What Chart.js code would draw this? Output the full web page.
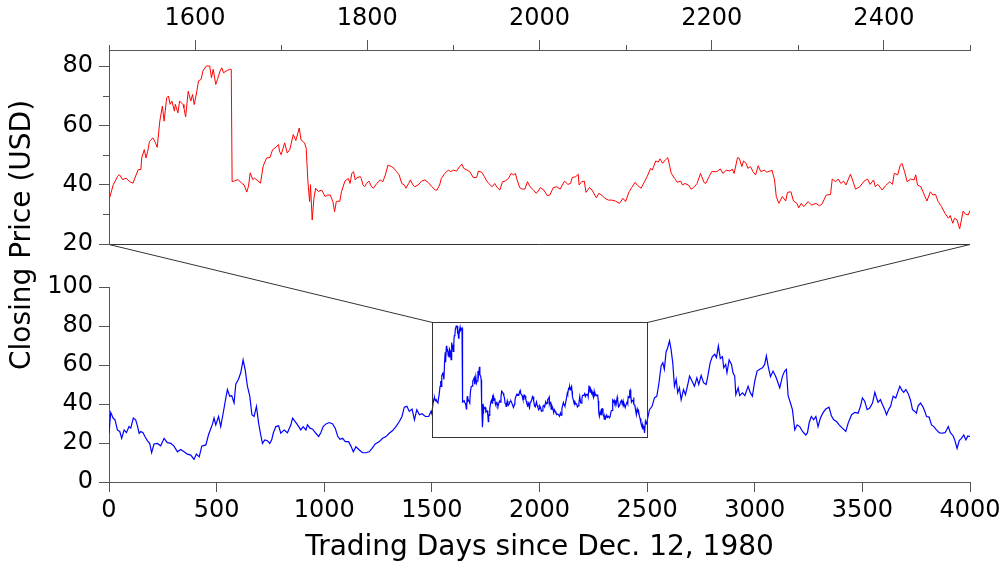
<!DOCTYPE html>
<html>
<head>
<meta charset="utf-8">
<script src="https://cdn.jsdelivr.net/npm/chart.js@4.4.1/dist/chart.umd.min.js"></script>
<style>
    html, body { margin: 0; padding: 0; background: #fff; }
    #wrap { position: relative; width: 1005px; height: 568px; }
    #wrap canvas { position: absolute; left: 0; top: 0; }
</style>
</head>
<body>
<div id="wrap">
    <canvas id="bottomChart" width="1005" height="568"></canvas>
    <canvas id="topChart" width="1005" height="568"></canvas>
</div>
<script>
// Datos (dias de cotizacion / precio de cierre)
const earlyDays = [0, 8, 19, 28, 39, 50, 59, 70, 81, 93, 101, 113, 124, 132, 140, 148, 158, 167, 178, 189, 198, 209, 225, 240, 256, 271, 287, 302, 318, 333, 349, 364, 380, 395, 406, 419, 431, 450, 462, 481, 488, 496, 509, 519, 530, 540, 550, 561, 570, 581, 589, 601, 612, 623, 633, 643, 654, 664, 674, 685, 695, 705, 713, 724, 736, 747, 756, 763, 775, 788, 798, 814, 829, 845, 853, 865, 876, 891, 902, 915, 922, 934, 946, 961, 974, 984, 995, 1008, 1023, 1039, 1051, 1062, 1073, 1085, 1098, 1113, 1124, 1135, 1147, 1163, 1178, 1194, 1209, 1222, 1237, 1256, 1271, 1287, 1302, 1318, 1333, 1349, 1361, 1372, 1384, 1395, 1408, 1419, 1430, 1442, 1454, 1470, 1485, 1496];
const earlyPrices = [25, 35.7, 32.8, 31.9, 26.7, 25.9, 22.4, 26.7, 25.3, 28.4, 27.6, 32.8, 31.9, 28.8, 25, 25.9, 25.3, 23.3, 21.2, 19.8, 15, 19.5, 19.8, 18.6, 22.4, 20.2, 19.8, 18.4, 15.5, 16.7, 15.5, 14.3, 13.8, 11.6, 14.3, 12.9, 18.4, 19, 24.1, 29.8, 32.8, 29.3, 33.6, 28.4, 35, 41.4, 47.4, 44, 44.3, 40.5, 50.2, 52.6, 56, 62.6, 57.4, 49.1, 44, 34.5, 33.6, 38.8, 30.2, 24.1, 19.8, 21.6, 21.2, 19.8, 21.6, 25, 28.4, 28.8, 25, 26.7, 25.3, 29.3, 32.8, 31, 29.3, 26.7, 28.4, 26.7, 29.3, 27.6, 27.1, 25, 23.3, 25.3, 28.4, 29.8, 30.5, 29.8, 27.6, 23.6, 21.9, 22.4, 20.7, 20.7, 18.4, 15.5, 18.1, 16.4, 15, 15, 15.5, 17.2, 19.5, 20.7, 22.4, 23.3, 25, 26.4, 28.4, 31, 33.6, 38.4, 38.8, 36.2, 37.4, 31.9, 37.1, 34.5, 35, 33.6, 33.6, 36.2];

// Tramo ampliado (1500 - 2500)
const zoomDays = [1500, 1505, 1510, 1512, 1516, 1520, 1524, 1528, 1530, 1534, 1537, 1538, 1541, 1543, 1545, 1547, 1551, 1554, 1556, 1559, 1562, 1564, 1567, 1569, 1571, 1573, 1576, 1577, 1580, 1582, 1586, 1587, 1589, 1592, 1595, 1597, 1599, 1602, 1604, 1607, 1609, 1613, 1617, 1619, 1621, 1624, 1626, 1629, 1631, 1633, 1636, 1640, 1642, 1643, 1646, 1650, 1654, 1657, 1660, 1662, 1664, 1667, 1669, 1673, 1676, 1679, 1683, 1687, 1690, 1693, 1697, 1698, 1700, 1704, 1707, 1710, 1714, 1717, 1721, 1723, 1727, 1729, 1731, 1733, 1734, 1736, 1738, 1740, 1743, 1747, 1751, 1754, 1757, 1760, 1762, 1764, 1766, 1768, 1770, 1774, 1778, 1780, 1782, 1784, 1786, 1788, 1792, 1793, 1795, 1797, 1799, 1802, 1805, 1807, 1811, 1815, 1818, 1821, 1824, 1828, 1831, 1834, 1837, 1840, 1843, 1845, 1848, 1850, 1853, 1855, 1859, 1863, 1867, 1871, 1875, 1879, 1881, 1884, 1886, 1890, 1894, 1897, 1900, 1904, 1907, 1910, 1912, 1916, 1919, 1923, 1927, 1929, 1933, 1936, 1938, 1941, 1945, 1948, 1951, 1954, 1957, 1960, 1964, 1967, 1970, 1972, 1974, 1977, 1980, 1983, 1986, 1989, 1993, 1996, 1998, 2001, 2005, 2009, 2012, 2016, 2020, 2024, 2029, 2033, 2036, 2038, 2042, 2045, 2046, 2049, 2052, 2054, 2058, 2061, 2066, 2069, 2073, 2076, 2080, 2084, 2088, 2093, 2097, 2100, 2104, 2107, 2111, 2114, 2118, 2122, 2125, 2129, 2131, 2135, 2138, 2140, 2143, 2146, 2149, 2151, 2153, 2157, 2160, 2164, 2166, 2169, 2173, 2176, 2179, 2183, 2187, 2191, 2193, 2197, 2200, 2206, 2210, 2213, 2217, 2221, 2224, 2226, 2230, 2232, 2235, 2237, 2240, 2242, 2245, 2248, 2251, 2254, 2257, 2261, 2264, 2268, 2270, 2273, 2275, 2278, 2282, 2286, 2288, 2292, 2295, 2299, 2301, 2304, 2307, 2312, 2316, 2321, 2325, 2328, 2333, 2338, 2340, 2344, 2347, 2350, 2353, 2356, 2361, 2363, 2367, 2372, 2377, 2381, 2384, 2388, 2390, 2393, 2398, 2402, 2407, 2410, 2412, 2416, 2419, 2421, 2424, 2427, 2431, 2435, 2437, 2439, 2443, 2447, 2450, 2454, 2457, 2460, 2463, 2467, 2471, 2475, 2477, 2480, 2482, 2485, 2488, 2492, 2495, 2498, 2500];
const zoomPrices = [34.9, 40, 42.8, 43.4, 41.7, 42.2, 41, 40.5, 42.2, 45.1, 45.1, 49, 51.8, 49, 51.3, 54.6, 55.8, 54.1, 52.6, 61.4, 66.5, 61.4, 69.3, 69.9, 67.1, 68.2, 64.8, 67.1, 64.2, 68.2, 67, 65.9, 62.8, 71.5, 68.2, 70.4, 67, 71.5, 75, 75.5, 78.3, 80, 80, 76, 78.9, 73.8, 75.5, 78.3, 79.4, 77.7, 78.3, 78.9, 78.9, 41, 41.3, 41.7, 40.5, 39.9, 37.5, 39.4, 44, 41.7, 42.2, 41.3, 40.5, 46.2, 49, 49.2, 51.8, 52.4, 53.5, 51.3, 50.1, 54.1, 50.7, 51.8, 56.9, 54.9, 59.1, 55.1, 54.1, 52.4, 41, 34.3, 40, 28.1, 35.4, 38.8, 37.7, 38.2, 36, 36.5, 36.5, 34.3, 30.9, 34.3, 34.5, 34.3, 37.6, 41.2, 42.1, 40.4, 43.8, 44.4, 41.6, 42.4, 42.7, 42.1, 39.9, 39.3, 40.4, 41.2, 39.3, 38.8, 40.4, 41.6, 41, 43.3, 46.6, 46.1, 45.5, 44.4, 43.3, 40.4, 39.9, 38.8, 40.4, 41.6, 39.9, 39.3, 39.9, 41.2, 41.6, 40.7, 39.3, 38.2, 38.2, 39.9, 42.1, 43.8, 44.9, 44.4, 44.9, 44.6, 46.1, 46.9, 45.5, 44.9, 44.4, 42.4, 42.4, 44.6, 44.2, 42.7, 41.6, 40.4, 39.3, 40.4, 39, 38.2, 41, 41.2, 42.1, 43.8, 43.3, 43.8, 41.6, 39, 38.5, 38.5, 41, 39.3, 38.2, 37.1, 37.6, 39, 38.2, 36.3, 36.5, 39, 39.3, 38.5, 41.2, 40.1, 40.4, 42.4, 42.7, 43.5, 39.9, 41, 41.2, 37.4, 39, 38.2, 35.6, 37.1, 36.3, 35.4, 34.8, 34.8, 34.5, 33.7, 35.4, 34.3, 37.6, 39, 40.8, 39.7, 38.8, 41, 42.7, 45.5, 44.9, 48, 47.6, 48.7, 47.2, 48.3, 49.1, 46.6, 43.8, 42.1, 40.8, 41.2, 39.9, 40.4, 39.9, 38.5, 39, 40.4, 43.8, 40.8, 40.4, 42.7, 44.4, 44.4, 45.3, 43.8, 44.9, 44.6, 45.2, 43.8, 49.1, 48.9, 46.1, 48, 47.2, 45.5, 46.1, 44.4, 43.3, 46.4, 44.4, 44.9, 44.2, 44.6, 44.9, 41.6, 36, 33.7, 36, 34.5, 37.4, 37.6, 34.5, 33.7, 32.2, 33.7, 32.6, 34.3, 33.1, 33.7, 32.9, 33.4, 36.5, 36.7, 41.9, 41, 41.9, 40.4, 41.2, 39.9, 43.5, 42.1, 38.5, 39.3, 41.2, 41.9, 40.1, 41.6, 39.3, 40.1, 38.2, 39.7, 41, 40.1, 43.8, 43.3, 46.6, 47.2, 44.4, 41, 41.9, 41.6, 43.3, 39.9, 39.3, 36.5, 34.5, 37.6, 36.5, 36.7, 34.3, 32.6, 30.3, 28.7, 29.6, 27, 28.7, 28.1, 25.1, 31.1, 30, 29.8, 31.3];

const lateDays = [2511, 2523, 2534, 2545, 2554, 2565, 2573, 2580, 2588, 2596, 2604, 2611, 2619, 2627, 2635, 2642, 2650, 2658, 2669, 2678, 2689, 2697, 2709, 2720, 2731, 2740, 2751, 2762, 2774, 2782, 2793, 2803, 2814, 2822, 2831, 2840, 2850, 2856, 2865, 2871, 2881, 2892, 2899, 2907, 2912, 2923, 2930, 2943, 2954, 2969, 2980, 2989, 3000, 3011, 3023, 3036, 3046, 3054, 3062, 3073, 3085, 3098, 3108, 3116, 3129, 3139, 3147, 3155, 3166, 3175, 3186, 3197, 3209, 3222, 3237, 3245, 3253, 3263, 3274, 3284, 3294, 3305, 3318, 3330, 3345, 3356, 3367, 3380, 3392, 3407, 3423, 3434, 3450, 3465, 3480, 3491, 3500, 3511, 3522, 3534, 3547, 3558, 3566, 3573, 3584, 3593, 3604, 3612, 3623, 3631, 3643, 3655, 3666, 3674, 3682, 3692, 3702, 3713, 3723, 3733, 3744, 3751, 3759, 3770, 3782, 3790, 3798, 3810, 3821, 3832, 3844, 3857, 3868, 3884, 3891, 3899, 3909, 3922, 3930, 3940, 3950, 3960, 3971, 3981, 3990, 4000];
const latePrices = [37.1, 38.8, 43.1, 44, 50, 59.5, 61.2, 57.8, 66.7, 69, 72.4, 68.1, 61.2, 49.1, 52.6, 45.7, 48.3, 42.2, 47.4, 44.8, 50, 54.3, 51.7, 49.1, 53.4, 50, 54.7, 50.9, 50, 54.3, 61.2, 64.3, 65.5, 63.8, 69.8, 63.3, 64.3, 58.6, 60.3, 56, 62.6, 60.3, 56, 54.3, 44.8, 48.3, 44.3, 45.7, 44.3, 49.1, 45.7, 44, 51.7, 56.9, 57.8, 58.6, 60.3, 64.7, 59.5, 54, 56.9, 54, 50.9, 48.3, 54.3, 56.9, 57.8, 44.3, 40.5, 37.1, 26.7, 29.3, 28.4, 25.9, 24.1, 25.3, 30.5, 33.6, 31.9, 33.6, 28.4, 32.8, 35.7, 37.4, 38.4, 34, 31.9, 31, 29.3, 27.6, 25.9, 30.2, 34.5, 35.7, 35.3, 38.8, 43.1, 41.4, 37.1, 37.9, 40.5, 46, 43.1, 40.9, 42.2, 39.7, 37.1, 34.5, 37.4, 38.8, 44, 43.1, 46.6, 49.1, 47.4, 46, 47.4, 45.3, 42.2, 37.1, 36.2, 35.3, 39.1, 40.5, 38.4, 36.2, 33.6, 33.3, 29.3, 28.4, 26.7, 25.3, 25, 25.3, 26.7, 28.4, 25.3, 23.6, 21.2, 17.2, 21.2, 22.4, 24.1, 21.6, 23.6, 23.3];

// Marcas de los ejes
const topXTicks = [1500, 1600, 1700, 1800, 1900, 2000, 2100, 2200, 2300, 2400, 2500];
const topXLabels = [1600, 1800, 2000, 2200, 2400];
const topYTicks = [20, 30, 40, 50, 60, 70, 80];
const topYLabels = [20, 40, 60, 80];
const bottomXTicks = [0, 500, 1000, 1500, 2000, 2500, 3000, 3500, 4000];
const bottomYTicks = [0, 20, 40, 60, 80, 100];

// Recuadro de la zona ampliada
const zoomBoxX = [1500, 2500];
const zoomBoxY = [23, 82];

const AXIS = "#555555";
const FRAME = "#333333";

Chart.defaults.font.family = "'DejaVu Sans', sans-serif";
Chart.defaults.color = "#000";

const toPoints = (days, prices) => days.map((d, i) => ({ x: d, y: prices[i] }));
const fixedTicks = (values) => (scale) => {
    scale.ticks = values.map((v) => ({ value: v }));
};

// Marcas cortas (menores) en los ejes del panel superior
const minorTicks = {
    id: "minorTicks",
    afterDraw(chart, args, opts) {
        const { ctx, chartArea, scales } = chart;
        ctx.save();
        ctx.strokeStyle = AXIS;
        ctx.lineWidth = 1;
        ctx.beginPath();
        (opts.x || []).forEach((v) => {
            const px = Math.round(scales.x.getPixelForValue(v)) + 0.5;
            ctx.moveTo(px, chartArea.top);
            ctx.lineTo(px, chartArea.top - opts.xLen);
        });
        (opts.y || []).forEach((v) => {
            const py = Math.round(scales.y.getPixelForValue(v)) + 0.5;
            ctx.moveTo(chartArea.left, py);
            ctx.lineTo(chartArea.left - opts.yLen, py);
        });
        ctx.stroke();
        ctx.restore();
    },
};

const topChart = new Chart(document.getElementById("topChart"), {
    type: "line",
    data: {
        datasets: [
            {
                data: toPoints(zoomDays, zoomPrices),
                borderColor: "#ff0000",
                borderWidth: 1,
                pointRadius: 0,
                tension: 0,
            },
        ],
    },
    options: {
        responsive: false,
        animation: false,
        devicePixelRatio: 1,
        layout: { padding: { left: 0, top: 0, right: 35, bottom: 324 } },
        plugins: {
            legend: { display: false },
            tooltip: { enabled: false },
            minorTicks: {
                x: topXTicks.filter((v) => !topXLabels.includes(v)),
                y: topYTicks.filter((v) => !topYLabels.includes(v)),
                xLen: 5,
                yLen: 6,
            },
        },
        scales: {
            x: {
                type: "linear",
                position: "top",
                min: 1500,
                max: 2500,
                afterBuildTicks: fixedTicks(topXTicks),
                afterFit: (s) => { s.height = 50; },
                ticks: {
                    autoSkip: false,
                    maxRotation: 0,
                    padding: 7,
                    font: { size: 24 },
                    callback: (v) => (topXLabels.includes(v) ? String(v) : ""),
                },
                grid: {
                    drawOnChartArea: false,
                    tickLength: 10,
                    color: (c) => (c.tick && topXLabels.includes(c.tick.value) ? AXIS : "rgba(0,0,0,0)"),
                },
                border: { color: AXIS, width: 1 },
            },
            y: {
                min: 20,
                max: 85.4,
                afterBuildTicks: fixedTicks(topYTicks),
                afterFit: (s) => { s.width = 109; },
                ticks: {
                    padding: 6,
                    font: { size: 24 },
                    callback: (v) => (topYLabels.includes(v) ? String(v) : ""),
                },
                grid: {
                    drawOnChartArea: false,
                    tickLength: 10,
                    color: (c) => (c.tick && topYLabels.includes(c.tick.value) ? AXIS : "rgba(0,0,0,0)"),
                },
                border: { color: AXIS, width: 1 },
            },
        },
    },
    plugins: [minorTicks],
});

// Recuadro, lineas de conexion y titulo del eje Y
const zoomFrame = {
    id: "zoomFrame",
    afterDraw(chart) {
        const { ctx, scales } = chart;
        const tx = topChart.scales.x;
        const ty = topChart.scales.y;
        const x1 = Math.round(scales.x.getPixelForValue(zoomBoxX[0])) + 0.5;
        const x2 = Math.round(scales.x.getPixelForValue(zoomBoxX[1])) + 0.5;
        const y1 = Math.round(scales.y.getPixelForValue(zoomBoxY[1])) + 0.5;
        const y2 = Math.round(scales.y.getPixelForValue(zoomBoxY[0])) + 0.5;
        const tLeft = tx.getPixelForValue(zoomBoxX[0]);
        const tRight = tx.getPixelForValue(zoomBoxX[1]);
        const tBottom = Math.round(ty.getPixelForValue(ty.min)) + 0.5;

        ctx.save();
        ctx.strokeStyle = FRAME;
        ctx.lineWidth = 1;
        ctx.strokeRect(x1, y1, x2 - x1, y2 - y1);
        ctx.beginPath();
        ctx.moveTo(x1, y1);
        ctx.lineTo(tLeft, tBottom);
        ctx.lineTo(tRight, tBottom);
        ctx.lineTo(x2, y1);
        ctx.stroke();

        ctx.fillStyle = "#000";
        ctx.font = "28px 'DejaVu Sans', sans-serif";
        ctx.textAlign = "center";
        ctx.textBaseline = "middle";
        ctx.translate(23, 235);
        ctx.rotate(-Math.PI / 2);
        ctx.fillText("Closing Price (USD)", 0, 0);
        ctx.restore();
    },
};

const bottomChart = new Chart(document.getElementById("bottomChart"), {
    type: "line",
    data: {
        datasets: [
            {
                data: toPoints(
                    earlyDays.concat(zoomDays, lateDays),
                    earlyPrices.concat(zoomPrices, latePrices)
                ),
                borderColor: "#0000ff",
                borderWidth: 1.2,
                pointRadius: 0,
                tension: 0,
            },
        ],
    },
    options: {
        responsive: false,
        animation: false,
        devicePixelRatio: 1,
        layout: { padding: { left: 0, top: 287, right: 35, bottom: 0 } },
        plugins: {
            legend: { display: false },
            tooltip: { enabled: false },
        },
        scales: {
            x: {
                type: "linear",
                min: 0,
                max: 4000,
                afterBuildTicks: fixedTicks(bottomXTicks),
                afterFit: (s) => { s.height = 86; },
                ticks: {
                    autoSkip: false,
                    maxRotation: 0,
                    padding: 4,
                    font: { size: 24 },
                    callback: (v) => String(v),
                },
                grid: { drawOnChartArea: false, tickLength: 10, color: AXIS },
                border: { color: AXIS, width: 1 },
                title: {
                    display: true,
                    text: "Trading Days since Dec. 12, 1980",
                    font: { size: 28 },
                    padding: { top: 0, bottom: 3 },
                },
            },
            y: {
                min: 0,
                max: 100,
                afterBuildTicks: fixedTicks(bottomYTicks),
                afterFit: (s) => { s.width = 109; },
                ticks: { padding: 6, font: { size: 24 }, callback: (v) => String(v) },
                grid: { drawOnChartArea: false, tickLength: 10, color: AXIS },
                border: { color: AXIS, width: 1 },
            },
        },
    },
    plugins: [zoomFrame],
});
</script>
</body>
</html>
